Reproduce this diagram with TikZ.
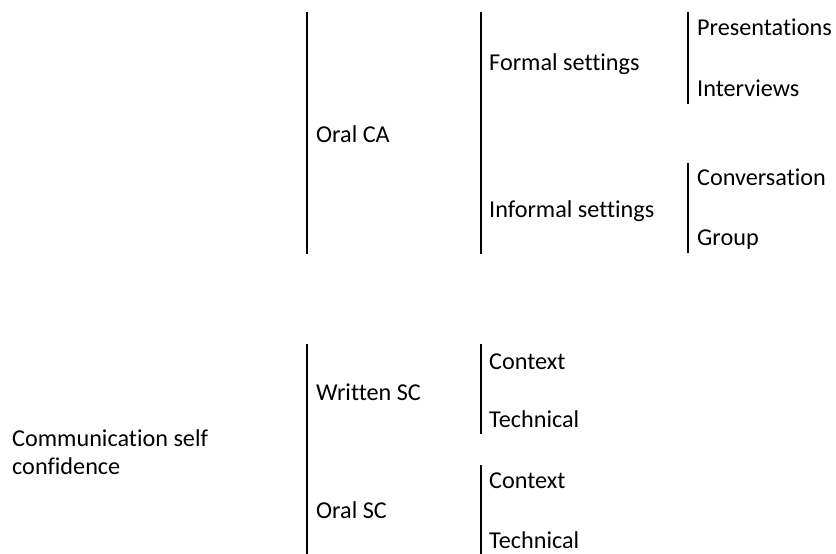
\documentclass[tikz,border=0pt]{standalone}
\usepackage{fontspec}
\setmainfont{Carlito}[Ligatures=NoCommon]
\usepackage{tikz}

\begin{document}
\begin{tikzpicture}[line cap=butt,x=1bp,y=-1bp,
  lbl/.style={anchor=base west,inner sep=0pt,font=\fontsize{24.3}{28}\selectfont},
  bar/.style={line width=1.6bp}]
\useasboundingbox (0,0) rectangle (836,554);
% upper tree
\draw[bar] (307,12)-- (307,254);
\draw[bar] (481,12)-- (481,254);
\draw[bar] (688,12)-- (688,104);
\draw[bar] (688,163)-- (688,253);
\node[lbl] (oralca) at (316,143) {Oral CA};
\node[lbl] (formal) at (489,71) {Formal settings};
\node[lbl] (informal) at (489,218) {Informal settings};
\node[lbl] (present) at (697,36) {Presentations};
\node[lbl] (interv) at (697,97) {Interviews};
\node[lbl] (convers) at (697,186) {Conversation};
\node[lbl] (group) at (697,246) {Group};
% lower tree
\draw[bar] (307,344)-- (307,554);
\draw[bar] (481,344)-- (481,434);
\draw[bar] (481,465)-- (481,554);
\node[lbl,anchor=west,align=left] (selfconf) at (12,452) {Communication self\\confidence};
\node[lbl] (writtensc) at (316,400) {Written SC};
\node[lbl] (oralsc) at (316,518) {Oral SC};
\node[lbl] (wcontext) at (489,369) {Context};
\node[lbl] (wtechn) at (489,427) {Technical};
\node[lbl] (ocontext) at (489,488) {Context};
\node[lbl] (otechn) at (489,548) {Technical};
\end{tikzpicture}
\end{document}
